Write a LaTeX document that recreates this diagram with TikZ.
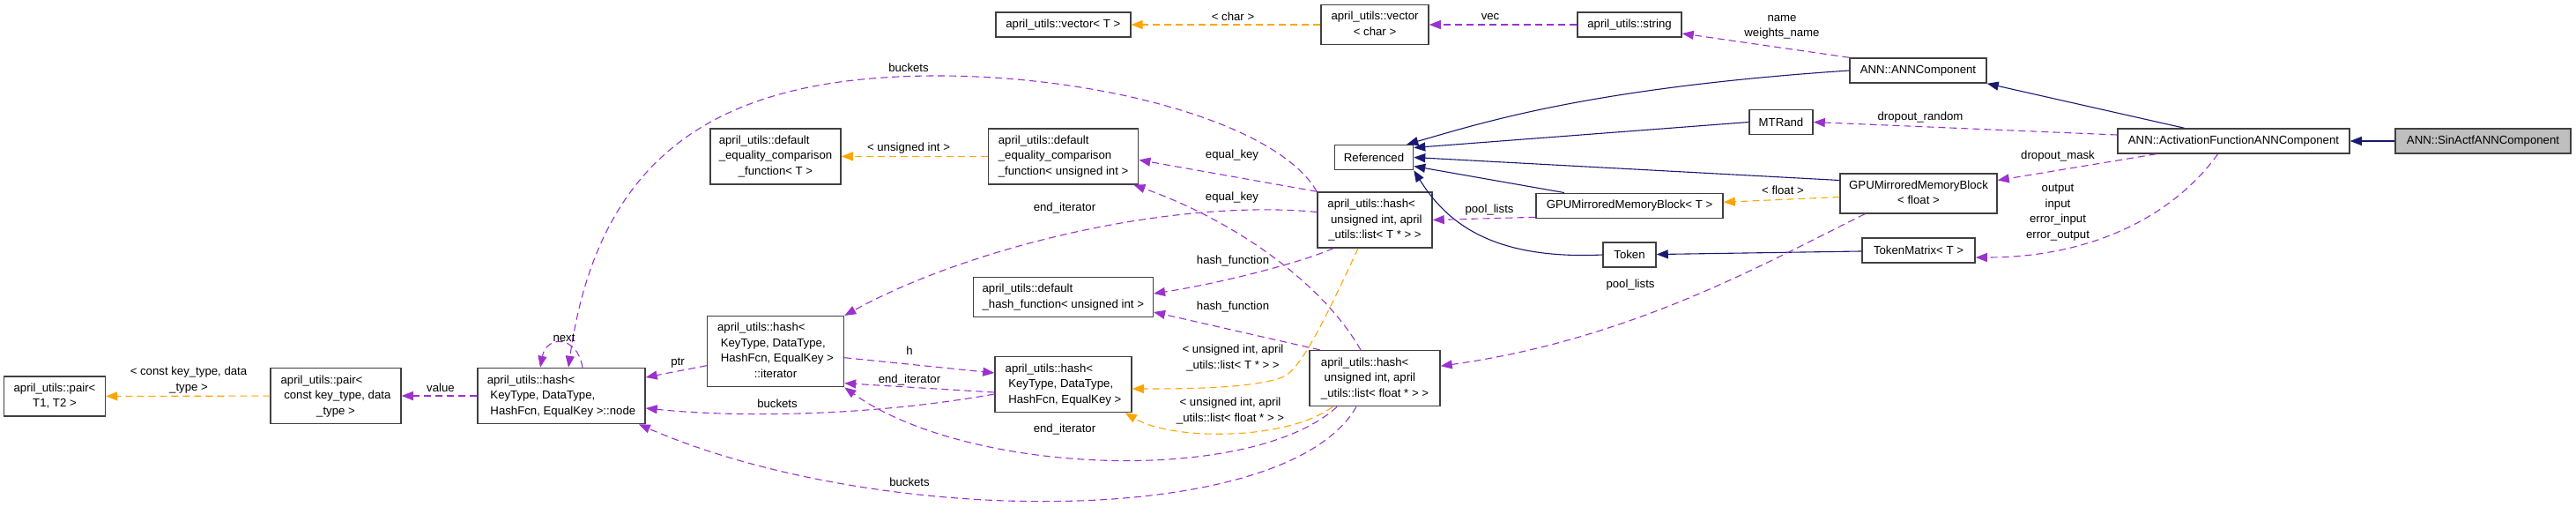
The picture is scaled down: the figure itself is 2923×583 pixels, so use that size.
\documentclass[tikz,border=0pt]{standalone}
\usepackage{fontspec}
\setmainfont{Liberation Sans}
\usetikzlibrary{arrows.meta}

\definecolor{inhcol}{HTML}{191970}
\definecolor{usecol}{HTML}{9A32CD}
\definecolor{tplcol}{HTML}{FFA500}
\definecolor{boxcol}{HTML}{404040}
\definecolor{sincol}{HTML}{BFBFBF}

% first lines left, last line centred (as doxygen does)
\newcommand{\clsname}[2]{\begin{tabular}{@{}l@{}}#1\\\multicolumn{1}{@{}c@{}}{#2}\end{tabular}}

\begin{document}
\begin{tikzpicture}[x=1pt, y=-1pt, font=\fontsize{13.2}{17.5}\selectfont,
	cls/.style={draw=boxcol, line width=1.5pt, fill=white, inner sep=0pt},
	h1/.style={minimum height=28pt},
	h2/.style={minimum height=45pt},
	h3/.style={minimum height=63pt},
	h4/.style={minimum height=80pt},
	lbl/.style={inner sep=0pt, align=center},
	inherit/.style={draw=inhcol, line width=1.1pt, -{Triangle[length=13pt,width=10pt]}},
	uses/.style={draw=usecol, line width=1.1pt, dash pattern=on 8pt off 5pt, -{Triangle[length=13pt,width=10pt]}},
	tmpl/.style={draw=tplcol, line width=1.1pt, dash pattern=on 8pt off 5pt, -{Triangle[length=13pt,width=10pt]}}]
			\useasboundingbox (0,0) rectangle (2923,583);

			% classes
			\node[cls,h2,minimum width=115pt] (pairT) at (62,449.5) {\clsname{april\_utils::pair<}{T1, T2 >}};
			\node[cls,h3,minimum width=148pt] (pairKD) at (381,449) {\clsname{april\_utils::pair<\\\ const key\_type, data}{\_type >}};
			\node[cls,h3,minimum width=190pt] (hnode) at (637,449) {\clsname{april\_utils::hash<\\\ KeyType, DataType,}{\ HashFcn, EqualKey >::node}};
			\node[cls,h4,minimum width=155pt] (iter) at (880,398.7) {\clsname{april\_utils::hash<\\\ KeyType, DataType,\\\ HashFcn, EqualKey >}{::iterator}};
			\node[cls,h3,minimum width=148pt] (eqT) at (880,177.4) {\clsname{april\_utils::default\\\_equality\_comparison}{\_function< T >}};
			\node[cls,h3,minimum width=170pt] (eqU) at (1206.6,177.4) {\clsname{april\_utils::default\\\_equality\_comparison}{\_function< unsigned int >}};
			\node[cls,h1,minimum width=153pt] (vecT) at (1206.3,28) {april\_utils::vector< T >};
			\node[cls,h2,minimum width=122pt] (vecC) at (1560,28) {\clsname{april\_utils::vector}{< char >}};
			\node[cls,h1,minimum width=118pt] (string) at (1849,28) {april\_utils::string};
			\node[cls,h1,minimum width=155pt] (annc) at (2176.5,80) {ANN::ANNComponent};
			\node[cls,h1,minimum width=72pt] (mtrand) at (2021,138.5) {MTRand};
			\node[cls,h1,minimum width=263pt] (act) at (2534.5,160) {ANN::ActivationFunctionANNComponent};
			\node[cls,h1,minimum width=199pt,fill=sincol] (sin) at (2817.5,160) {ANN::SinActfANNComponent};
			\node[cls,h2,minimum width=178pt] (gpuF) at (2177,219.5) {\clsname{GPUMirroredMemoryBlock}{< float >}};
			\node[cls,h1,minimum width=212pt] (gpuT) at (1849,233.3) {GPUMirroredMemoryBlock< T >};
			\node[cls,h1,minimum width=60pt] (token) at (1849,289) {Token};
			\node[cls,h1,minimum width=128pt] (tokM) at (2177,284) {TokenMatrix< T >};
			\node[cls,h1,minimum width=89pt] (ref) at (1559,178.5) {Referenced};
			\node[cls,h3,minimum width=130pt] (hashT) at (1560,249.5) {\clsname{april\_utils::hash<\\\ unsigned int, april}{\_utils::list< T * > >}};
			\node[cls,h3,minimum width=148pt] (hashF) at (1560,429.2) {\clsname{april\_utils::hash<\\\ unsigned int, april}{\_utils::list< float * > >}};
			\node[cls,h3,minimum width=155pt] (hashKD) at (1206.5,436) {\clsname{april\_utils::hash<\\\ KeyType, DataType,}{\ HashFcn, EqualKey >}};
			\node[cls,h2,minimum width=204pt] (defHash) at (1206.3,337) {\clsname{april\_utils::default}{\_hash\_function< unsigned int >}};

			% inheritance
			\draw[inherit] (sin) -- (act);
			\draw[inherit] ([xshift=-56pt]act.north) -- (annc.south east);
			\draw[inherit] (annc.west) .. controls (1800,100) and (1680,140) .. ([xshift=-8pt]ref.north east);
			\draw[inherit] (mtrand.west) -- ([yshift=11pt]ref.east);
			\draw[inherit] ([yshift=15pt]gpuF.west) -- (ref.east);
			\draw[inherit] ([xshift=-74pt]gpuT.north) -- ([yshift=-10pt]ref.east);
			\draw[inherit] (token.west) .. controls (1690,295) and (1640,250) .. (ref.south east);
			\draw[inherit] (tokM) -- (token);

			% usage
			\draw[uses] (string) -- (vecC);
			\draw[uses] (annc.north west) -- ([yshift=-10pt]string.east);
			\draw[uses] ([yshift=7pt]act.west) -- (mtrand.east);
			\draw[uses] ([xshift=-88pt]act.south) -- ([yshift=15pt]gpuF.east);
			\draw[uses] ([xshift=-18pt]act.south) .. controls (2470,240) and (2380,292) .. ([yshift=-8pt]tokM.east);
			\draw[uses] ([yshift=-13pt]gpuT.west) -- (hashT.east);
			\draw[uses] ([xshift=-61pt]gpuF.south) .. controls (2000,300) and (1850,385) .. ([yshift=14pt]hashF.east);
			\draw[uses] (hashT.north west) -- ([yshift=-4pt]eqU.east);
			\draw[uses] ([xshift=-47pt]hashT.south) .. controls (1470,300) and (1380,322) .. ([yshift=4pt]defHash.east);
			\draw[uses] ([yshift=9pt]hashT.west) .. controls (1330,225) and (1100,280) .. (iter.north east);
			\draw[uses] (hashT.north west) .. controls (1450,140) and (1250,86) .. (1064,86) .. controls (820,86) and (680,170) .. ([xshift=8pt]hnode.north);
			\draw[uses] ([xshift=-16pt]hashF.north) .. controls (1500,320) and (1400,250) .. ([xshift=-6pt]eqU.south east);
			\draw[uses] ([xshift=-62pt]hashF.north) -- ([yshift=-17pt]defHash.east);
			\draw[uses] ([xshift=-43pt]hashF.south) .. controls (1420,550) and (1100,540) .. (iter.south east);
			\draw[uses] ([xshift=-21pt]hashF.south) .. controls (1460,600) and (1000,600) .. ([xshift=-8pt]hnode.south east);
			\draw[uses] ([yshift=-7pt]iter.east) -- ([yshift=13pt]hashKD.west);
			\draw[uses] ([yshift=-9pt]hashKD.west) -- ([yshift=-36pt]iter.east);
			\draw[uses] ([yshift=-11pt]hashKD.west) .. controls (1000,470) and (850,475) .. ([yshift=-14pt]hnode.east);
			\draw[uses] ([yshift=-16pt]iter.west) -- ([yshift=21pt]hnode.east);
			\draw[uses] (hnode) -- (pairKD);
			\draw[uses] ([xshift=24pt]hnode.north) .. controls (655,380) and (620,380) .. ([xshift=-24pt]hnode.north);

			% template instances
			\draw[tmpl] (pairKD) -- (pairT);
			\draw[tmpl] (eqU) -- (eqT);
			\draw[tmpl] (vecC) -- (vecT);
			\draw[tmpl] ([yshift=-4pt]gpuF.west) -- ([yshift=4pt]gpuT.east);
			\draw[tmpl] ([xshift=-19pt]hashT.south) .. controls (1500,370) and (1475,420) .. (1455,428) .. controls (1420,441) and (1340,441) .. ([yshift=-5pt]hashKD.east);
			\draw[tmpl] ([xshift=-48pt]hashF.south) .. controls (1460,500) and (1330,500) .. ([xshift=-8pt]hashKD.south east);

			% edge labels
			\node[lbl] (lpair) at (214,431) {< const key\_type, data\\\_type >};
			\node[lbl] (lvalue) at (500,440) {value};
			\node[lbl] (lnext) at (640,383) {next};
			\node[lbl] (lptr) at (769,412) {ptr};
			\node[lbl] (lh) at (1032,398) {h};
			\node[lbl] (lend1) at (1032,431) {end\_iterator};
			\node[lbl] (lbuck1) at (882,458) {buckets};
			\node[lbl] (lbuck2) at (1031,77) {buckets};
			\node[lbl] (lbuck3) at (1032,547) {buckets};
			\node[lbl] (lend2) at (1208,236) {end\_iterator};
			\node[lbl] (lend3) at (1208,487) {end\_iterator};
			\node[lbl] (lunsig) at (1031,168) {< unsigned int >};
			\node[lbl] (lchar) at (1399,19) {< char >};
			\node[lbl] (lvec) at (1691,19) {vec};
			\node[lbl] (lname) at (2022,31) {name\\weights\_name};
			\node[lbl] (leq1) at (1398,176) {equal\_key};
			\node[lbl] (leq2) at (1398,224) {equal\_key};
			\node[lbl] (lhf1) at (1399,296) {hash\_function};
			\node[lbl] (lhf2) at (1399,348) {hash\_function};
			\node[lbl] (llistT) at (1399,406) {< unsigned int, april\\\_utils::list< T * > >};
			\node[lbl] (llistF) at (1396,466) {< unsigned int, april\\\_utils::list< float * > >};
			\node[lbl] (lpool1) at (1690,238) {pool\_lists};
			\node[lbl] (lpool2) at (1850,323) {pool\_lists};
			\node[lbl] (lfloat) at (2023,216) {< float >};
			\node[lbl] (lrand) at (2179,133) {dropout\_random};
			\node[lbl] (lmask) at (2335,177) {dropout\_mask};
			\node[lbl] (lmat) at (2335,241) {output\\input\\error\_input\\error\_output};
		\end{tikzpicture}
\end{document}
